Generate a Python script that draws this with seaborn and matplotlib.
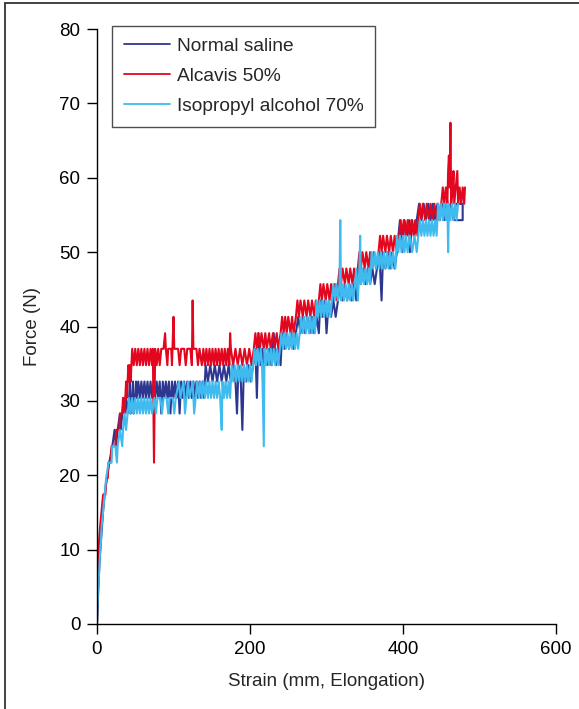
import matplotlib
matplotlib.use("Agg")
import matplotlib.pyplot as plt
from matplotlib.patches import Rectangle
import seaborn as sns
import pandas as pd

series_names = ["Normal saline", "Alcavis 50%", "Isopropyl alcohol 70%"]
series_colors = ["#2e3790", "#e2061e", "#3fbbef"]
x_ticks = [0, 200, 400, 600]
y_ticks = [0, 10, 20, 30, 40, 50, 60, 70, 80]

# (strain mm, force N)
saline = [
    (0, 0.0), (1, 2.2), (1.5, 4.3), (2.5, 6.5), (3.5, 8.7), (5, 10.9), (6.5, 13.0), (8, 15.2),
    (10, 17.4), (13, 19.6), (16, 21.7), (20, 23.9), (23, 26.1), (25, 23.9), (27, 26.1), (30, 28.3),
    (31, 26.1), (33, 28.3), (35, 30.4), (36, 28.3), (38, 30.4), (40, 28.3), (42, 30.4), (43, 32.6),
    (44, 28.3), (46, 30.4), (47, 32.6), (48, 28.3), (50, 30.4), (51, 32.6), (52, 30.4),
    (54, 32.6), (56, 30.4), (58, 32.6), (60, 30.4), (62, 32.6), (64, 30.4), (66, 32.6), (68, 30.4),
    (70, 32.6), (72, 30.4), (74, 32.6), (76, 30.4), (78, 32.6), (80, 30.4), (82, 32.6), (84, 28.3),
    (86, 32.6), (88, 30.4), (90, 32.6), (92, 30.4), (94, 32.6), (96, 28.3), (98, 32.6), (100, 30.4),
    (102, 32.6), (104, 30.4), (106, 32.6), (108, 28.3), (110, 32.6), (112, 30.4), (114, 32.6),
    (116, 30.4), (118, 32.6), (120, 30.4), (122, 32.6), (124, 30.4), (126, 32.6), (128, 30.4),
    (130, 32.6), (132, 30.4), (134, 32.6), (136, 30.4), (138, 32.6), (140, 30.4),
    (142, 34.8), (145, 32.6), (148, 34.8), (151, 32.6), (154, 34.8), (157, 32.6), (160, 34.8),
    (163, 32.6), (166, 34.8), (169, 32.6), (172, 34.8), (175, 32.6), (178, 34.8), (181, 32.6),
    (183, 28.3), (185, 34.8), (188, 32.6), (190, 26.1), (192, 34.8), (195, 32.6), (198, 34.8),
    (201, 32.6), (204, 34.8),
    (207, 37.0), (209, 30.4), (211, 39.1), (213, 34.8), (216, 37.0), (217, 32.6), (219, 37.0),
    (222, 34.8), (225, 37.0), (228, 34.8), (231, 39.1), (234, 34.8), (237, 37.0), (240, 34.8),
    (242, 39.1), (245, 37.0), (248, 39.1), (251, 37.0), (254, 39.1), (257, 37.0), (260, 39.1),
    (263, 41.3), (266, 39.1), (269, 41.3), (272, 39.1), (275, 41.3), (278, 39.1), (281, 41.3),
    (284, 39.1), (287, 41.3), (290, 39.1),
    (292, 43.5), (295, 41.3), (298, 43.5), (300, 39.1), (303, 43.5), (306, 41.3), (309, 43.5),
    (312, 41.3), (315, 43.5),
    (318, 45.7), (321, 43.5), (324, 45.7), (327, 43.5), (330, 45.7), (333, 43.5), (336, 45.7),
    (339, 43.5),
    (342, 47.8), (345, 45.7), (348, 47.8), (351, 45.7), (354, 47.8), (357, 45.7), (360, 47.8),
    (363, 45.7), (366, 47.8),
    (369, 50.0), (372, 43.5), (374, 50.0), (377, 47.8), (380, 50.0), (383, 47.8), (386, 50.0),
    (389, 47.8), (392, 50.0),
    (394, 52.2), (396, 54.3), (399, 50.0), (402, 54.3), (405, 52.2), (408, 54.3), (409, 50.0),
    (412, 54.3), (415, 52.2), (418, 54.3),
    (421, 56.5), (424, 54.3), (427, 56.5), (430, 54.3), (433, 56.5), (436, 54.3), (439, 56.5),
    (442, 54.3), (445, 56.5), (448, 54.3), (451, 56.5), (454, 54.3), (457, 56.5), (460, 54.3),
    (463, 56.5), (466, 54.3), (469, 56.5), (478, 56.5), (478, 54.3), (468, 54.3),
]

alcavis = [
    (0, 0.0), (0.5, 4.3), (1.5, 8.7), (2.5, 10.9), (4, 13.0), (6, 15.2), (8, 17.4), (11, 17.4),
    (12, 19.6), (14, 19.6), (15, 21.7), (18, 21.7), (19, 23.9), (24, 23.9), (25, 26.1), (29, 26.1),
    (30, 28.3), (33, 28.3), (34, 30.4), (36, 28.3), (37, 30.4), (38, 32.6), (39, 30.4), (40, 32.6),
    (41, 34.8), (42, 32.6), (43, 34.8), (44, 32.6), (45, 34.8), (46, 37.0),
    (48, 34.8), (50, 37.0), (52, 34.8), (54, 37.0), (56, 34.8), (58, 37.0), (60, 34.8), (62, 37.0),
    (64, 34.8), (66, 37.0), (68, 34.8), (70, 37.0), (72, 34.8), (73, 37.0), (74.5, 21.7),
    (76, 37.0), (78, 34.8), (80, 37.0), (82, 34.8), (84, 37.0), (87, 37.0), (89, 39.1), (90, 37.0),
    (92, 34.8), (93, 37.0), (97, 37.0), (98, 34.8), (100, 41.3), (101, 37.0), (106, 37.0),
    (108, 34.8), (110, 37.0), (114, 37.0), (116, 34.8), (118, 37.0), (122, 37.0), (124, 34.8),
    (125, 43.5), (126, 37.0), (130, 37.0), (132, 34.8), (134, 37.0), (137, 34.8), (139, 37.0),
    (141, 34.8), (143, 37.0), (145, 34.8), (147, 37.0), (149, 34.8), (151, 37.0), (153, 34.8),
    (155, 37.0), (157, 34.8), (159, 37.0), (161, 34.8), (163, 37.0), (165, 34.8), (167, 37.0),
    (169, 34.8), (171, 37.0), (173, 34.8), (174, 39.1), (175, 37.0), (178, 34.8), (181, 37.0),
    (184, 34.8), (187, 37.0), (190, 34.8), (193, 37.0), (196, 34.8), (199, 37.0), (202, 34.8),
    (205, 37.0),
    (207, 39.1), (209, 37.0), (211, 39.1), (213, 37.0), (215, 39.1), (218, 37.0), (220, 39.1),
    (222, 37.0), (225, 39.1), (227, 37.0), (230, 39.1), (232, 37.0), (235, 39.1), (237, 37.0),
    (240, 39.1),
    (242, 41.3), (244, 39.1), (246, 41.3), (248, 39.1), (250, 41.3), (253, 39.1), (255, 41.3),
    (257, 39.1), (260, 41.3),
    (262, 43.5), (264, 41.3), (266, 43.5), (269, 41.3), (271, 43.5), (274, 41.3), (276, 43.5),
    (279, 41.3), (281, 43.5), (284, 41.3), (286, 43.5), (289, 41.3), (290, 43.5),
    (292, 45.7), (294, 43.5), (296, 45.7), (299, 43.5), (301, 45.7), (304, 43.5), (306, 45.7),
    (309, 43.5), (311, 45.7), (314, 43.5), (315, 45.7),
    (317, 47.8), (319, 45.7), (321, 47.8), (324, 45.7), (326, 47.8), (329, 45.7), (331, 47.8),
    (334, 45.7), (336, 47.8), (339, 45.7), (341, 47.8),
    (343, 50.0), (345, 47.8), (347, 50.0), (350, 47.8), (352, 50.0), (355, 47.8), (357, 50.0),
    (360, 47.8), (362, 50.0), (365, 47.8), (368, 50.0),
    (370, 52.2), (372, 50.0), (374, 52.2), (377, 50.0), (379, 52.2), (382, 50.0), (384, 52.2),
    (387, 50.0), (389, 52.2), (392, 50.0), (395, 52.2),
    (397, 54.3), (399, 52.2), (401, 54.3), (404, 52.2), (406, 54.3), (409, 52.2), (411, 54.3),
    (414, 52.2), (416, 54.3), (419, 52.2), (420, 54.3),
    (422, 56.5), (424, 54.3), (426, 56.5), (429, 54.3), (431, 56.5), (434, 54.3), (436, 56.5),
    (439, 54.3), (441, 56.5), (444, 54.3), (446, 56.5), (448, 54.3), (450, 56.5),
    (452, 58.7), (454, 56.5), (456, 58.7), (458, 56.5), (459, 60.9), (460, 63.0), (461, 58.7),
    (462, 67.4), (463, 56.5), (465, 58.7), (466, 60.9), (467, 56.5), (469, 58.7), (471, 60.9),
    (472, 56.5), (474, 58.7), (476, 56.5), (478, 58.7), (480, 56.5), (481, 58.7),
]

isopropyl = [
    (0, 0.0), (0.5, 2.2), (1.5, 4.3), (2.5, 6.5), (3.5, 8.7), (5, 10.9), (6, 13.0), (8, 15.2),
    (10, 17.4), (12, 19.6), (15, 21.7), (19, 21.7), (20, 23.9), (24, 23.9), (26, 21.7), (27, 23.9),
    (30, 26.1), (33, 23.9), (34, 26.1), (36, 28.3), (38, 26.1), (40, 28.3), (42, 30.4),
    (44, 28.3), (46, 30.4), (48, 28.3), (50, 30.4), (52, 28.3), (54, 30.4), (56, 28.3), (58, 30.4),
    (60, 28.3), (62, 30.4), (64, 28.3), (66, 30.4), (68, 28.3), (70, 30.4), (72, 28.3),
    (75, 30.4), (77, 28.3), (79, 30.4), (83, 30.4), (85, 28.3), (87, 30.4), (91, 30.4), (93, 28.3),
    (95, 30.4), (99, 30.4), (101, 28.3), (103, 30.4),
    (107, 32.6), (109, 30.4), (113, 32.6), (115, 28.3), (119, 32.6), (121, 30.4), (125, 32.6),
    (127, 28.3), (131, 32.6), (133, 30.4), (135, 32.6),
    (137, 30.4), (139, 32.6), (141, 30.4), (143, 32.6), (145, 30.4), (147, 32.6), (149, 30.4),
    (151, 32.6), (153, 30.4), (155, 32.6), (157, 30.4), (159, 32.6), (161, 30.4), (163, 26.1),
    (164, 32.6), (166, 30.4), (168, 32.6), (170, 30.4), (172, 32.6), (174, 30.4),
    (176, 34.8), (178, 32.6), (180, 34.8), (182, 32.6), (184, 34.8), (186, 32.6), (188, 34.8),
    (190, 32.6), (192, 34.8), (194, 32.6), (196, 34.8), (198, 32.6), (200, 34.8), (202, 32.6),
    (204, 34.8),
    (206, 37.0), (208, 34.8), (210, 37.0), (212, 34.8), (214, 37.0), (216, 34.8), (218, 23.9),
    (219, 37.0), (221, 34.8), (223, 37.0), (225, 34.8), (227, 37.0), (229, 34.8), (231, 37.0),
    (233, 34.8), (235, 37.0), (237, 34.8), (239, 37.0),
    (241, 39.1), (243, 37.0), (245, 39.1), (247, 37.0), (249, 39.1), (251, 37.0), (253, 39.1),
    (255, 37.0), (257, 39.1), (259, 37.0), (261, 39.1), (263, 37.0), (265, 39.1),
    (267, 41.3), (269, 39.1), (271, 41.3), (273, 39.1), (275, 41.3), (277, 39.1), (279, 41.3),
    (281, 39.1), (283, 41.3), (285, 39.1),
    (287, 43.5), (289, 41.3), (291, 43.5), (293, 41.3), (295, 43.5), (297, 41.3), (299, 43.5),
    (301, 41.3), (303, 43.5), (305, 41.3), (307, 43.5),
    (309, 45.7), (311, 43.5), (313, 45.7), (315, 43.5), (317, 45.7), (318, 54.3), (319, 43.5),
    (321, 45.7), (323, 43.5), (325, 45.7), (327, 43.5), (329, 45.7), (331, 43.5), (333, 45.7),
    (335, 43.5), (337, 45.7),
    (339, 47.8), (341, 43.5), (343, 47.8), (344, 52.2), (345, 45.7), (347, 47.8), (349, 45.7),
    (351, 47.8), (353, 45.7), (355, 47.8), (357, 45.7),
    (359, 50.0), (361, 47.8), (363, 50.0), (365, 47.8), (367, 50.0), (369, 47.8), (371, 50.0),
    (373, 47.8), (375, 50.0), (377, 47.8), (379, 50.0), (381, 47.8), (383, 50.0), (385, 47.8),
    (387, 50.0), (390, 47.8),
    (392, 52.2), (394, 50.0), (396, 52.2), (398, 50.0), (400, 52.2), (402, 50.0), (404, 52.2),
    (406, 50.0), (409, 52.2), (412, 50.0), (415, 52.2), (418, 50.0), (420, 52.2),
    (422, 54.3), (424, 52.2), (426, 54.3), (428, 52.2), (430, 54.3), (432, 52.2), (434, 54.3),
    (436, 52.2), (438, 54.3), (440, 52.2), (442, 54.3), (444, 52.2),
    (446, 56.5), (448, 54.3), (450, 56.5), (452, 54.3), (454, 56.5), (456, 54.3), (458, 56.5),
    (459, 50.0), (460, 56.5), (462, 54.3), (464, 56.5), (466, 54.3), (468, 56.5), (470, 54.3),
    (472, 56.5),
]

frames = []
for name, pts in zip(series_names, [saline, alcavis, isopropyl]):
    d = pd.DataFrame(pts, columns=["strain", "force"])
    d["series"] = name
    frames.append(d)
df = pd.concat(frames, ignore_index=True)

sns.set_style("ticks")
plt.rcParams["font.family"] = ["Liberation Sans", "DejaVu Sans"]

fig = plt.figure(figsize=(5.79, 7.09), dpi=100)
ax = fig.add_axes([97 / 579, 1 - 624 / 709, (556 - 97) / 579, (624 - 29) / 709])

sns.lineplot(data=df, x="strain", y="force", hue="series", hue_order=series_names,
             palette=dict(zip(series_names, series_colors)), sort=False, estimator=None,
             linewidth=1.5, ax=ax)

ax.set_xlim(0, 600)
ax.set_ylim(0, 80)
ax.set_xticks(x_ticks)
ax.set_yticks(y_ticks)
ax.set_xlabel("Strain (mm, Elongation)", fontsize=13.5, labelpad=11)
ax.set_ylabel("Force (N)", fontsize=13.5, labelpad=13)
ax.tick_params(axis="both", direction="out", length=7, width=1, colors="black",
               labelsize=13.5, pad=5)
sns.despine(ax=ax)
for s in ["left", "bottom"]:
    ax.spines[s].set_color("black")
    ax.spines[s].set_linewidth(1.0)

handles, labels = ax.get_legend_handles_labels()
leg = ax.legend(handles, labels, loc="upper left", bbox_to_anchor=(0.0327, 1.0055),
                borderaxespad=0, frameon=True, fancybox=False, fontsize=13.8,
                handlelength=2.4, handletextpad=0.35, labelspacing=0.66, borderpad=0.62)
leg.get_frame().set_edgecolor("#222222")
leg.get_frame().set_linewidth(1.0)
for lh in leg.get_lines():
    lh.set_linewidth(1.3)

fig.patches.append(Rectangle((5 / 579, -0.1), 1.2, 1.1 - 3 / 709, transform=fig.transFigure,
                             fill=False, edgecolor="#333333", linewidth=1.3))

fig.savefig("out.png", dpi=100)
